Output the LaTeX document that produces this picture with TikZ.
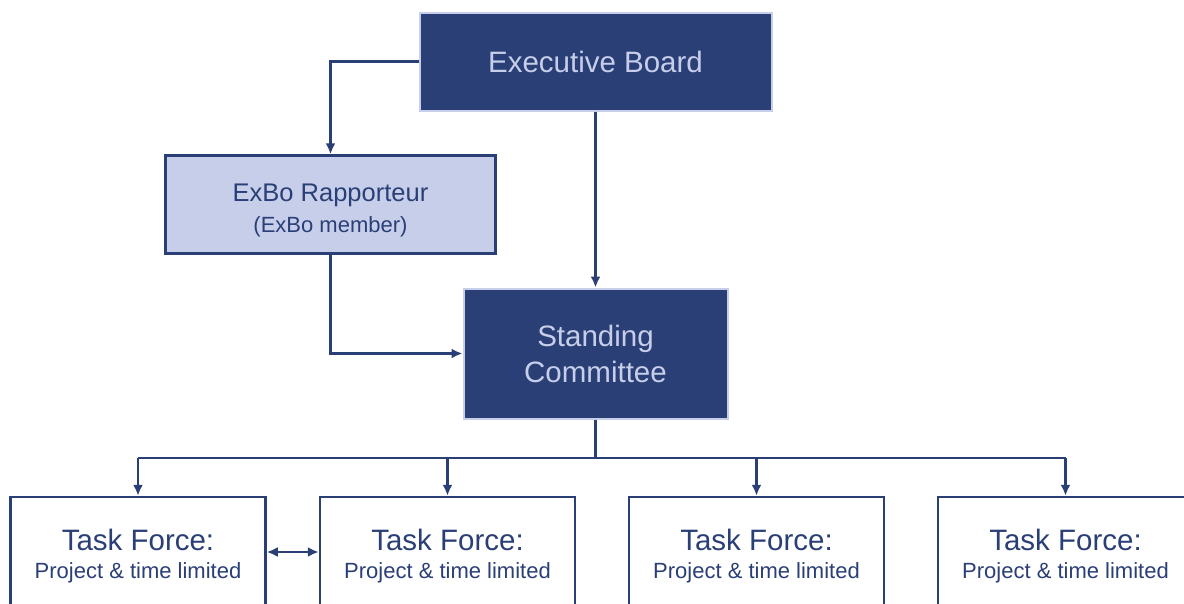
\documentclass[tikz,border=0pt]{standalone}
\usepackage{fontspec}
\setmainfont{Liberation Sans}
\usetikzlibrary{arrows.meta,positioning}
\definecolor{boardblue}{HTML}{2B3F77}
\definecolor{paleblue}{HTML}{C6CEEA}
\tikzset{>={Latex[length=11pt,width=10pt]}}

\begin{document}
\begin{tikzpicture}[x=1pt,y=-1pt,line width=2.5pt,draw=boardblue]
        \tikzset{darkbox/.style={draw=paleblue,fill=boardblue,text=paleblue,line width=2pt,
                    inner sep=0pt,align=center,font=\fontsize{29.5}{36}\selectfont}}
        \tikzset{palebox/.style={draw=boardblue,fill=paleblue,text=boardblue,line width=2.5pt,
                    inner sep=0pt,align=center,font=\fontsize{25.5}{30}\selectfont}}
        \tikzset{taskbox/.style={draw=boardblue,fill=white,text=boardblue,line width=2.5pt,
                    inner sep=0pt,align=center,minimum width=255pt,minimum height=118pt,
                    font=\fontsize{29.5}{31}\selectfont}}
        \clip (0,0) rectangle (1184,603);

            \node[darkbox,minimum width=352pt,minimum height=98pt] (board) at (595.5,61.5) {Executive Board};
            \node[palebox,minimum width=330pt,minimum height=98pt] (rapp) at (330.5,204.5)
                {\rule{0pt}{30pt}ExBo Rapporteur\\[1pt]{\fontsize{22}{26}\selectfont (ExBo member)}};
            \node[darkbox,minimum width=264pt,minimum height=130pt] (standing) at (595.5,353.5) {Standing\\Committee};
            \foreach \n/\x in {1/138,2/447.5,3/756.5,4/1065.5}
                \node[taskbox] (tf\n) at (\x,556) {Task Force:\\[-3pt]{\fontsize{22}{26}\selectfont Project \& time limited}};

            \coordinate (bus) at (595.5,458);
        \draw[->] (board.west) -| (rapp.north);
        \draw[->] (board.south) -- (standing.north);
        \draw[->] (rapp.south) |- (standing.west);
        \draw (standing.south) -- (bus);
        \draw (bus -| tf1.north) -- (bus -| tf4.north);
        \foreach \n in {1,...,4}
            \draw[->] (bus -| tf\n.north) -- (tf\n.north);
        \draw[<->] ([yshift=4pt]tf1.east) -- ([yshift=4pt]tf2.west);
\end{tikzpicture}
\end{document}
